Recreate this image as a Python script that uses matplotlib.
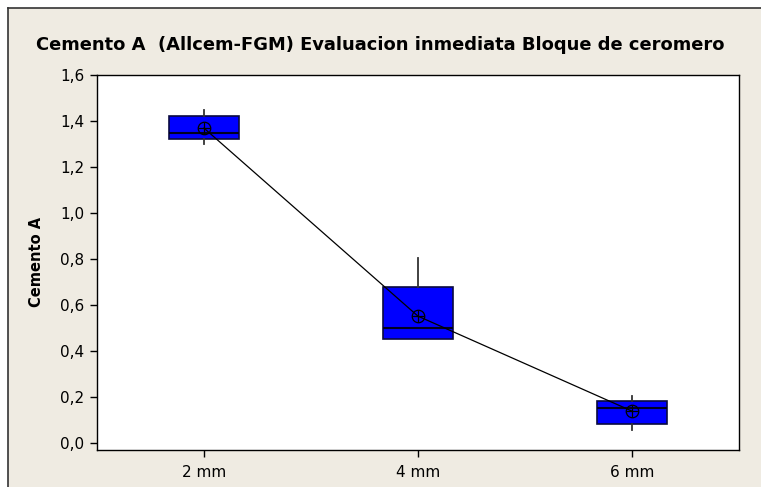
import matplotlib
matplotlib.use("Agg")
import matplotlib.pyplot as plt
from matplotlib.patches import Rectangle
from matplotlib.lines import Line2D
from matplotlib.ticker import FuncFormatter

categories = ["2 mm", "4 mm", "6 mm"]
q1 = [1.322, 0.451, 0.081]
median = [1.349, 0.499, 0.152]
q3 = [1.422, 0.676, 0.181]
whisk_lo = [1.300, 0.451, 0.055]
whisk_hi = [1.448, 0.802, 0.205]
means = [1.369, 0.551, 0.138]
yticks = [0.0, 0.2, 0.4, 0.6, 0.8, 1.0, 1.2, 1.4, 1.6]

W, H = 761, 487
fig = plt.figure(figsize=(W / 100, H / 100), dpi=100, facecolor="white")

# outer panel
fig.patches.append(Rectangle((8 / W, 0), 1 - 8 / W, 1 - 8 / H, transform=fig.transFigure,
                             facecolor="#EFEBE2", edgecolor="none", zorder=-10))
fig.lines.append(Line2D([8 / W, 8 / W], [0, 1 - 8 / H], transform=fig.transFigure,
                        color="#333333", lw=1.2))
fig.lines.append(Line2D([8 / W, 1], [1 - 8 / H, 1 - 8 / H], transform=fig.transFigure,
                        color="#333333", lw=1.2))

ax_l, ax_r, ax_t, ax_b = 97, 739, 75, 449.5
ax = fig.add_axes([ax_l / W, 1 - ax_b / H, (ax_r - ax_l) / W, (ax_b - ax_t) / H])
ax.set_facecolor("white")

stats = []
for i, c in enumerate(categories):
    stats.append(dict(label=c, q1=q1[i], med=median[i], q3=q3[i],
                      whislo=whisk_lo[i], whishi=whisk_hi[i], fliers=[]))
pos = list(range(1, len(categories) + 1))
ax.bxp(stats, positions=pos, widths=0.33, patch_artist=True, showcaps=False,
       boxprops=dict(facecolor="#0000FF", edgecolor="#0A0A40", linewidth=1.2),
       medianprops=dict(color="#000020", linewidth=1.5),
       whiskerprops=dict(color="#333333", linewidth=1.3))

ax.plot(pos, means, color="black", lw=0.9, zorder=5)
ax.plot(pos, means, linestyle="none", marker="o", markersize=9, markerfacecolor="none",
        markeredgecolor="black", markeredgewidth=0.9, zorder=6)
ax.plot(pos, means, linestyle="none", marker="+", markersize=9,
        markeredgecolor="black", markeredgewidth=0.9, zorder=6)

ax.set_xlim(0.5, 3.5)
ax.set_ylim(-0.029, 1.6)
ax.set_yticks(yticks)
ax.yaxis.set_major_formatter(FuncFormatter(lambda v, p: f"{v:.1f}".replace(".", ",")))
ax.set_xticks(pos)
ax.set_xticklabels(categories)
ax.tick_params(axis="both", direction="out", length=5, width=1, labelsize=11,
               colors="black", pad=4)
ax.tick_params(axis="x", pad=6)
for s in ax.spines.values():
    s.set_color("black")
    s.set_linewidth(1.0)

ax.set_ylabel("Cemento A", fontsize=10.5, fontweight="bold", labelpad=12)
fig.text(380 / W, 1 - 45 / H, "Cemento A  (Allcem-FGM) Evaluacion inmediata Bloque de ceromero",
         ha="center", va="center", fontsize=12.9, fontweight="bold")

fig.savefig("out.png", dpi=100, facecolor=fig.get_facecolor())
